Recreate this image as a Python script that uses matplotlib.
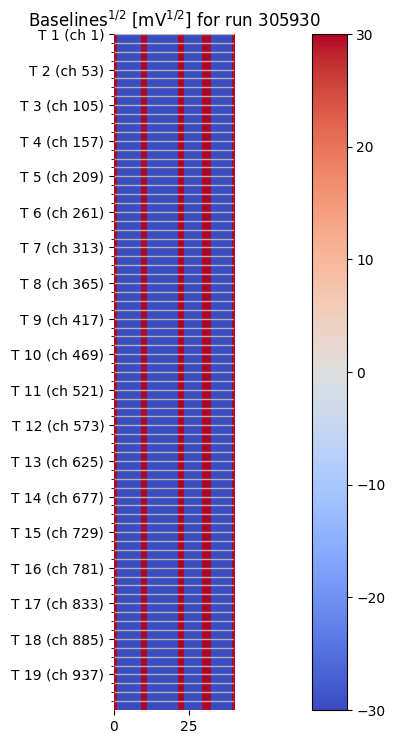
import matplotlib
matplotlib.use("Agg")
import matplotlib.pyplot as plt
import numpy as np

run_number = 305930
n_tiles = 19
ch_per_tile = 52
ch_per_group = 13

# value of each column (all channels show the same pattern)
column_values = [
    30, -30, -30, -30, -30, -30, -30, -30, -30, 30,
    30, -30, -30, -30, -30, -30, -30, -30, -30, -30,
    -30, 30, 30, -30, -30, -30, -30, -30, -30, 30,
    30, 30, -30, -30, -30, -30, -30, -30, -30, 30,
]
tile_labels = [f"T {i + 1} (ch {i * ch_per_tile + 1})" for i in range(n_tiles)]

n_ch = n_tiles * ch_per_tile
data = np.tile(np.array(column_values, dtype=float), (n_ch, 1))

fig = plt.figure(figsize=(3.94, 7.44), dpi=100)
ax = fig.add_axes([114 / 394, 34 / 744, 120 / 394, 676 / 744])
cax = fig.add_axes([312 / 394, 34 / 744, 34.5 / 394, 676 / 744])

im = ax.imshow(
    data,
    cmap="coolwarm",
    vmin=-30,
    vmax=30,
    aspect="auto",
    interpolation="nearest",
    extent=[0, len(column_values), n_ch, 0],
)

ax.set_yticks(np.arange(0, n_ch, ch_per_tile))
ax.set_yticklabels(tile_labels)
ax.set_yticks(np.arange(0, n_ch, ch_per_group), minor=True)
ax.set_xticks([0, 25])
ax.grid(which="both", axis="y", color="#b0b0b0", linewidth=1)
for spine in ax.spines.values():
    spine.set_visible(False)

ax.set_title(f"Baselines$^{{1/2}}$ [mV$^{{1/2}}$] for run {run_number}", fontsize=12)

cbar = fig.colorbar(im, cax=cax)
cbar.set_ticks([-30, -20, -10, 0, 10, 20, 30])

fig.savefig("out.png", dpi=100)
